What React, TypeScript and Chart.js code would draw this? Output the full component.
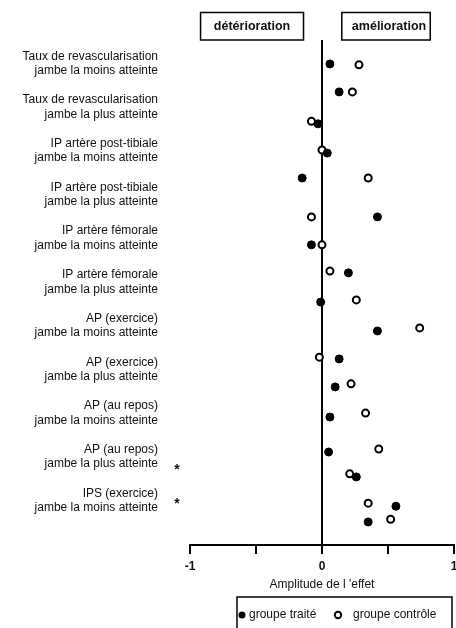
import { useEffect, useRef } from 'react';
import { Chart, registerables } from 'chart.js';

Chart.register(...registerables);

const FONT = '"Liberation Sans", Arial, sans-serif';

const categories: string[][] = [
  ['Taux de revascularisation', 'jambe la moins atteinte'],
  ['Taux de revascularisation', 'jambe la plus atteinte'],
  ['IP artère post-tibiale', 'jambe la moins atteinte'],
  ['IP artère post-tibiale', 'jambe la plus atteinte'],
  ['IP artère fémorale', 'jambe la moins atteinte'],
  ['IP artère fémorale', 'jambe la plus atteinte'],
  ['AP (exercice)', 'jambe la moins atteinte'],
  ['AP (exercice)', 'jambe la plus atteinte'],
  ['AP (au repos)', 'jambe la moins atteinte'],
  ['AP (au repos)', 'jambe la plus atteinte'],
  ['IPS (exercice)', 'jambe la moins atteinte'],
];

// groupe traité (filled)
const treatedX = [0.06, 0.13, -0.03, 0.04, -0.15, 0.42, -0.08, 0.2, -0.01, 0.42, 0.13, 0.1, 0.06, 0.05, 0.26, 0.56, 0.35];
const treatedY = [0.01, 0.65, 1.38, 2.05, 2.62, 3.51, 4.15, 4.79, 5.46, 6.12, 6.76, 7.4, 8.09, 8.89, 9.46, 10.13, 10.49];

// groupe contrôle (open)
const controlX = [0.28, 0.23, -0.08, 0.0, 0.35, -0.08, 0.0, 0.06, 0.26, 0.74, -0.02, 0.22, 0.33, 0.43, 0.21, 0.35, 0.52];
const controlY = [0.03, 0.65, 1.32, 1.98, 2.62, 3.51, 4.15, 4.75, 5.41, 6.05, 6.72, 7.33, 8.0, 8.82, 9.39, 10.06, 10.43];

const xTicks = [-1, -0.5, 0, 0.5, 1];
const xTickLabels = ['-1', '', '0', '', '1'];
const significantY = [9.25, 10.03];
const directionLabels = ['détérioration', 'amélioration'];
const seriesLabels = ['groupe traité', 'groupe contrôle'];
const xTitle = "Amplitude de l 'effet";

const decorPlugin = {
  id: 'decor',
  afterDraw(chart: any) {
    const ctx = chart.ctx as CanvasRenderingContext2D;
    const xs = chart.scales.x;
    const ys = chart.scales.y;
    const top = chart.chartArea.top;
    ctx.save();
    ctx.strokeStyle = '#000';
    ctx.fillStyle = '#111';
    ctx.lineWidth = 1.5;
    ctx.textBaseline = 'middle';

    // direction boxes
    const spans = [[-0.92, -0.14], [0.15, 0.82]];
    ctx.font = `bold 12.5px ${FONT}`;
    ctx.textAlign = 'center';
    spans.forEach(([a, b], i) => {
      const l = xs.getPixelForValue(a);
      const r = xs.getPixelForValue(b);
      ctx.strokeRect(l, 12.5, r - l, top - 12.5);
      ctx.fillText(directionLabels[i], (l + r) / 2 + (i === 1 ? 3 : 0), (12 + top) / 2 + 1);
    });

    // asterisks
    ctx.font = `bold 14px ${FONT}`;
    significantY.forEach((v) => {
      ctx.fillText('*', 177, ys.getPixelForValue(v) + 2);
    });

    // legend box
    ctx.lineWidth = 1.5;
    ctx.strokeRect(237, 597, 215, 50);
    const ly = 615;
    ctx.beginPath();
    ctx.arc(242, ly, 3.5, 0, Math.PI * 2);
    ctx.fillStyle = '#000';
    ctx.fill();
    ctx.beginPath();
    ctx.arc(338, ly, 3.2, 0, Math.PI * 2);
    ctx.fillStyle = '#fff';
    ctx.fill();
    ctx.lineWidth = 2;
    ctx.stroke();
    ctx.fillStyle = '#111';
    ctx.font = `12px ${FONT}`;
    ctx.textAlign = 'left';
    ctx.fillText(seriesLabels[0], 249, ly);
    ctx.fillText(seriesLabels[1], 353, ly);
    ctx.restore();
  },
};

export default function App() {
  const ref = useRef<HTMLCanvasElement>(null);

  useEffect(() => {
    document.body.style.margin = '0';
    if (!ref.current) return;
    const chart = new Chart(ref.current, {
      type: 'scatter',
      data: {
        datasets: [
          {
            label: seriesLabels[0],
            data: treatedX.map((x, i) => ({ x, y: treatedY[i] })),
            pointRadius: 4,
            pointBackgroundColor: '#000',
            pointBorderColor: '#000',
            pointBorderWidth: 1,
          },
          {
            label: seriesLabels[1],
            data: controlX.map((x, i) => ({ x, y: controlY[i] })),
            pointRadius: 3.5,
            pointBackgroundColor: '#fff',
            pointBorderColor: '#000',
            pointBorderWidth: 2,
          },
        ],
      },
      options: {
        animation: false,
        responsive: false,
        layout: { autoPadding: false, padding: { top: 40, left: 0, right: 0, bottom: 0 } },
        plugins: { legend: { display: false }, tooltip: { enabled: false } },
        scales: {
          x: {
            type: 'linear',
            min: -1,
            max: 1,
            afterBuildTicks: (s: any) => {
              s.ticks = xTicks.map((v) => ({ value: v }));
            },
            afterFit: (s: any) => {
              s.height = 83;
              s.paddingLeft = 0;
              s.paddingRight = 2;
            },
            grid: {
              color: (c: any) => (c.tick && c.tick.value === 0 ? '#000' : 'rgba(0,0,0,0)'),
              lineWidth: 2,
              tickColor: '#000',
              tickWidth: 2,
              tickLength: 9,
              drawTicks: true,
            },
            border: { display: true, color: '#000', width: 2 },
            ticks: {
              callback: (_v: any, i: number) => xTickLabels[i],
              font: { family: FONT, size: 12, weight: 'bold' },
              color: '#111',
              padding: 5,
              maxRotation: 0,
              autoSkip: false,
            },
            title: {
              display: true,
              text: xTitle,
              font: { family: FONT, size: 12 },
              color: '#111',
              padding: { top: 0, bottom: 36 },
            },
          },
          y: {
            type: 'linear',
            reverse: true,
            min: -0.538,
            max: 11.018,
            afterBuildTicks: (s: any) => {
              s.ticks = categories.map((_c, i) => ({ value: i }));
            },
            afterFit: (s: any) => {
              s.width = 190;
              s.paddingTop = 0;
              s.paddingBottom = 0;
            },
            grid: { display: false, drawTicks: false },
            border: { display: false },
            ticks: {
              callback: (_v: any, i: number) => categories[i],
              font: { family: FONT, size: 12 },
              color: '#111',
              padding: 32,
              autoSkip: false,
            },
          },
        },
      },
      plugins: [decorPlugin],
    } as any);
    return () => chart.destroy();
  }, []);

  return (
    <canvas
      ref={ref}
      width={456}
      height={628}
      style={{ display: 'block', width: 456, height: 628 }}
    />
  );
}
